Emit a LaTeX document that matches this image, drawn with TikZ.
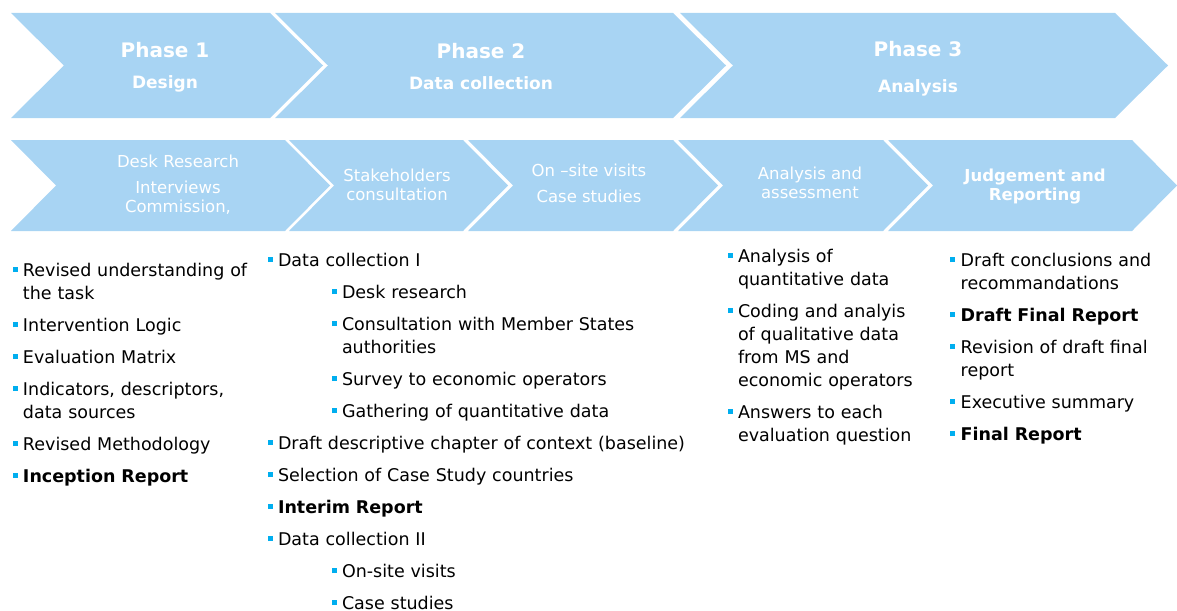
\documentclass[tikz,border=0pt]{standalone}
\usepackage{fontspec}
\setmainfont{DejaVu Sans}
\definecolor{chevblue}{RGB}{168,212,243}
\definecolor{dotblue}{RGB}{0,174,239}
\newcommand{\sqbullet}{\textcolor{dotblue}{\rule[4pt]{5pt}{5pt}}}
\newenvironment{steplist}[2]{%
  \begin{list}{\sqbullet}{%
    \setlength{\leftmargin}{#1}\setlength{\labelwidth}{5pt}%
    \setlength{\labelsep}{5.5pt}\setlength{\itemsep}{9pt}%
    \setlength{\parsep}{0pt}\setlength{\topsep}{#2}%
    \setlength{\partopsep}{0pt}\setlength{\itemindent}{0pt}}}
  {\end{list}}

\begin{document}
\begin{tikzpicture}[x=1pt,y=-1pt,
  chev/.style={fill=chevblue},
  phase/.style={text=white,font=\bfseries\fontsize{17}{31}\selectfont,align=center},
  task/.style={text=white,font=\fontsize{16.5}{19}\selectfont,align=center},
  items/.style={anchor=base west,inner sep=0pt,align=left,
    font=\fontsize{17.5}{23}\selectfont}]
\useasboundingbox (0,0) rectangle (1177,610);

\foreach \a/\b in {11/270,275/673,680/1115}
  \fill[chev] (\a,13) -- (\b,13) -- (\b+53,65.5) -- (\b,118) -- (\a,118) -- (\a+53,65.5) -- cycle;
\foreach \a/\b in {11/285,289/463,468/673,678/883,888/1132}
  \fill[chev] (\a,140) -- (\b,140) -- (\b+45,185.5) -- (\b,231) -- (\a,231) -- (\a+45,185.5) -- cycle;

\node(ph1) at (165,67)[phase] {{\fontsize{20}{20}\selectfont Phase 1}\\Design};
\node(ph2) at (481,66.5)[phase] {{\fontsize{20}{20}\selectfont Phase 2}\\Data collection};
\node(ph3) at (918,69)[phase] {{\fontsize{20}{20}\selectfont Phase 3}\\[5pt]Analysis};

\node(desk) at (178,184.5)[task] {Desk Research\\[7pt]Interviews\\Commission,};
\node(stake) at (397,184.5)[task] {Stakeholders\\consultation};
\node(visit) at (589,183)[task] {On –site visits\\[7pt]Case studies};
\node(assess) at (810,182.5)[task] {Analysis and\\assessment};
\node(report) at (1035,186.5)[task,font=\bfseries\fontsize{16.5}{19}\selectfont] {Judgement and\\Reporting};

\node(design) at (12.3,253)[items,text width=250pt] {\begin{steplist}{10.5pt}{0pt}
\item Revised understanding of\newline the task
\item Intervention Logic
\item Evaluation Matrix
\item Indicators, descriptors,\newline data sources
\item Revised Methodology
\item \textbf{Inception Report}
\end{steplist}};

\node(collect) at (267.3,243)[items,text width=440pt] {\begin{steplist}{10.5pt}{0pt}
\item Data collection I
  \begin{steplist}{64pt}{9pt}
  \item Desk research
  \item Consultation with Member States\newline authorities
  \item Survey to economic operators
  \item Gathering of quantitative data
  \end{steplist}
\item Draft descriptive chapter of context (baseline)
\item Selection of Case Study countries
\item \textbf{Interim Report}
\item Data collection II
  \begin{steplist}{64pt}{9pt}
  \item On-site visits
  \item Case studies
  \end{steplist}
\end{steplist}};

\node(analyse) at (727.3,239)[items,text width=215pt] {\begin{steplist}{10.5pt}{0pt}
\item Analysis of\newline quantitative data
\item Coding and analyis\newline of qualitative data\newline from MS and\newline economic operators
\item Answers to each\newline evaluation question
\end{steplist}};

\node(judge) at (950,243)[items,text width=227pt] {\begin{steplist}{10.5pt}{0pt}
\item Draft conclusions and\newline recommandations
\item \textbf{Draft Final Report}
\item Revision of draft final\newline report
\item Executive summary
\item \textbf{Final Report}
\end{steplist}};
\end{tikzpicture}
\end{document}
